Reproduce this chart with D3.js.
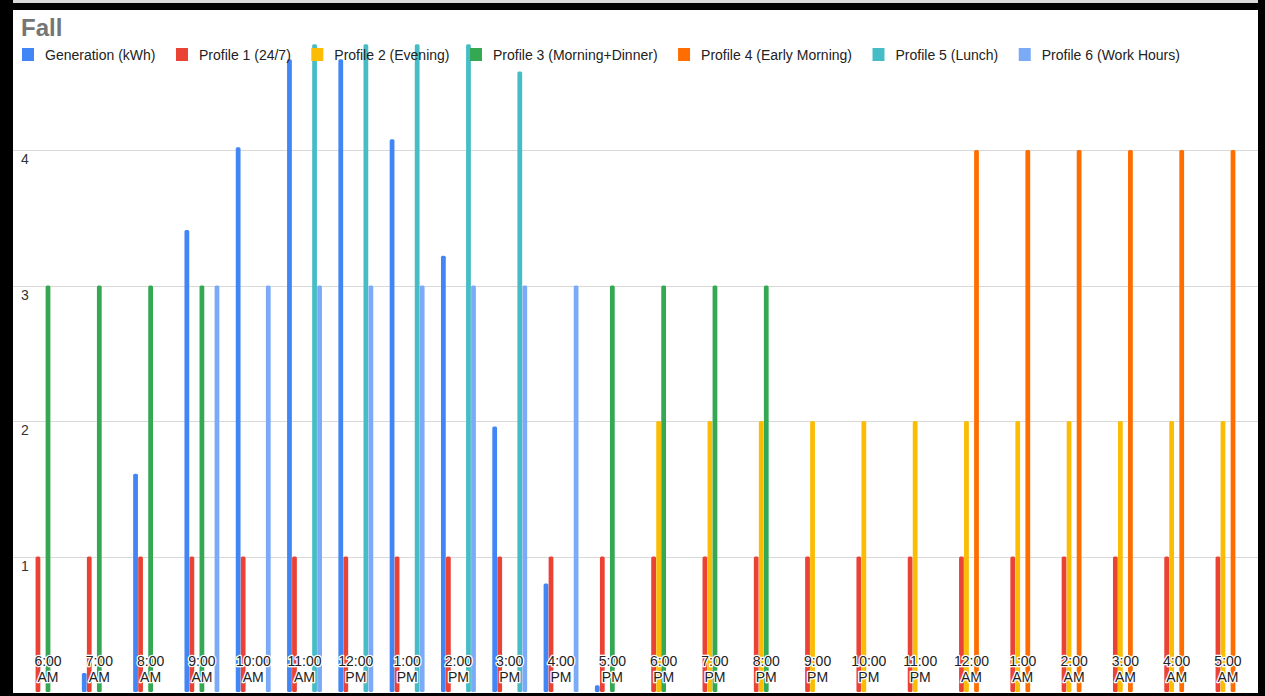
<!DOCTYPE html>
<html>
<head>
<meta charset="utf-8">
<script src="https://cdn.jsdelivr.net/npm/d3@7"></script>
<style>
  body { margin: 0; background: #fff; }
  svg { display: block; font-family: "Liberation Sans", Arial, sans-serif; }
</style>
</head>
<body>
<div id="chart"></div>
<script>
const hours = [
  "6:00 AM", "7:00 AM", "8:00 AM", "9:00 AM", "10:00 AM", "11:00 AM",
  "12:00 PM", "1:00 PM", "2:00 PM", "3:00 PM", "4:00 PM", "5:00 PM",
  "6:00 PM", "7:00 PM", "8:00 PM", "9:00 PM", "10:00 PM", "11:00 PM",
  "12:00 AM", "1:00 AM", "2:00 AM", "3:00 AM", "4:00 AM", "5:00 AM"
];
const seriesNames = [
  "Generation (kWh)", "Profile 1 (24/7)", "Profile 2 (Evening)", "Profile 3 (Morning+Dinner)",
  "Profile 4 (Early Morning)", "Profile 5 (Lunch)", "Profile 6 (Work Hours)"
];
const generation = [0, 0.14, 1.61, 3.41, 4.02, 4.67, 4.67, 4.08, 3.22, 1.96, 0.8, 0.05, 0, 0, 0, 0, 0, 0, 0, 0, 0, 0, 0, 0];
const profile1 = [1, 1, 1, 1, 1, 1, 1, 1, 1, 1, 1, 1, 1, 1, 1, 1, 1, 1, 1, 1, 1, 1, 1, 1];
const profile2 = [0, 0, 0, 0, 0, 0, 0, 0, 0, 0, 0, 0, 2, 2, 2, 2, 2, 2, 2, 2, 2, 2, 2, 2];
const profile3 = [3, 3, 3, 3, 0, 0, 0, 0, 0, 0, 0, 3, 3, 3, 3, 0, 0, 0, 0, 0, 0, 0, 0, 0];
const profile4 = [0, 0, 0, 0, 0, 0, 0, 0, 0, 0, 0, 0, 0, 0, 0, 0, 0, 0, 4, 4, 4, 4, 4, 4];
const profile5 = [0, 0, 0, 0, 0, 4.78, 4.78, 4.78, 4.78, 4.58, 0, 0, 0, 0, 0, 0, 0, 0, 0, 0, 0, 0, 0, 0];
const profile6 = [0, 0, 0, 3, 3, 3, 3, 3, 3, 3, 3, 0, 0, 0, 0, 0, 0, 0, 0, 0, 0, 0, 0, 0];
const yTicks = [1, 2, 3, 4];

const colors = ["#4285f4", "#ea4335", "#fbbc04", "#34a853", "#ff6d01", "#46bdc6", "#7baaf7"];
const allSeries = [generation, profile1, profile2, profile3, profile4, profile5, profile6];

const width = 1265;
const height = 696;

const svg = d3.select("#chart").append("svg").attr("width", width).attr("height", height);
svg.append("rect").attr("width", width).attr("height", height).attr("fill", "#fff");

// scales
const step = 51.3;
const x0 = d3.scaleBand().domain(hours).range([48 - step / 2, 1228 + step / 2]).paddingInner(0.32).paddingOuter(0.16);
const x1 = d3.scaleBand().domain(d3.range(seriesNames.length)).range([0, x0.bandwidth()]).paddingInner(0.05);
const y = d3.scaleLinear().domain([0, 5]).range([692, 692 - 5 * 135.5]);

// gridlines + y labels
const grid = svg.append("g");
grid.selectAll("line").data(yTicks).enter().append("line")
  .attr("x1", 13).attr("x2", 1258)
  .attr("y1", (d) => Math.round(y(d)) + 0.5).attr("y2", (d) => Math.round(y(d)) + 0.5)
  .attr("stroke", "#d9d9d9");
grid.selectAll("text").data(yTicks).enter().append("text")
  .attr("x", 21).attr("y", (d) => y(d) + 14)
  .attr("font-size", 14).attr("fill", "#333")
  .text((d) => d);

// bars
const groups = svg.append("g").selectAll("g").data(hours).enter().append("g")
  .attr("transform", (d) => `translate(${x0(d)},0)`);
groups.selectAll("rect")
  .data((d, i) => allSeries.map((s, k) => ({ k: k, v: s[i] })).filter((e) => e.v > 0))
  .enter().append("rect")
  .attr("x", (d) => x1(d.k))
  .attr("width", x1.bandwidth())
  .attr("y", (d) => y(d.v))
  .attr("height", (d) => y(0) - y(d.v))
  .attr("rx", 1.5)
  .attr("fill", (d) => colors[d.k]);

// x labels (two lines, white halo)
const xl = svg.append("g").selectAll("text").data(hours).enter().append("text")
  .attr("text-anchor", "middle")
  .attr("font-size", 14).attr("fill", "#222")
  .attr("stroke", "#fff").attr("stroke-width", 2.5).attr("paint-order", "stroke")
  .attr("stroke-linejoin", "round");
xl.append("tspan").attr("x", (d) => x0(d) + x0.bandwidth() / 2).attr("y", 666).text((d) => d.split(" ")[0]);
xl.append("tspan").attr("x", (d) => x0(d) + x0.bandwidth() / 2).attr("y", 682).text((d) => d.split(" ")[1]);

// title
svg.append("text").attr("x", 21).attr("y", 36)
  .attr("font-size", 24).attr("font-weight", "bold").attr("fill", "#757575")
  .text("Fall");

// legend
const legend = svg.append("g");
let lx = 22;
seriesNames.forEach((name, k) => {
  legend.append("rect").attr("x", lx).attr("y", 48).attr("width", 12).attr("height", 13).attr("fill", colors[k]);
  const t = legend.append("text").attr("x", lx + 23).attr("y", 60)
    .attr("font-size", 14).attr("fill", "#222").text(name);
  lx = lx + 23 + t.node().getComputedTextLength() + 20.5;
});

// frame
const frame = svg.append("g").attr("fill", "#000");
svg.insert("rect", "g").attr("x", 0).attr("y", 0).attr("width", width).attr("height", 3).attr("fill", "#d9d9d9");
frame.append("rect").attr("x", 0).attr("y", 3).attr("width", width).attr("height", 7);
frame.append("rect").attr("x", 0).attr("y", 0).attr("width", 13).attr("height", height);
frame.append("rect").attr("x", 1258).attr("y", 0).attr("width", 7).attr("height", height);
frame.append("rect").attr("x", 0).attr("y", 693).attr("width", width).attr("height", 3);
</script>
</body>
</html>
